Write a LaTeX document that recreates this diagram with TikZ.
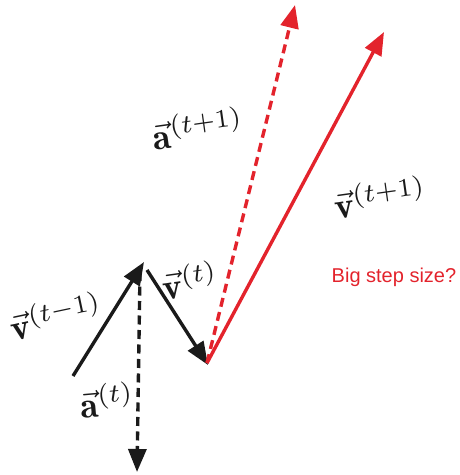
\documentclass[tikz,border=0pt]{standalone}
\usepackage{amsmath}
\usepackage{fontspec}
\usepackage{tikz}
\usetikzlibrary{arrows.meta}
\newfontfamily\notefont{Liberation Sans}
\definecolor{stepred}{HTML}{E3232C}
\definecolor{vecink}{HTML}{1A1A1A}

\begin{document}
\begin{tikzpicture}[
      x=1pt, y=-1pt,
      vecarr/.style={-{Triangle[length=23pt, width=18pt]}, line width=3.4pt, vecink},
      accarr/.style={vecarr, dash pattern=on 9pt off 5.5pt},
      redarr/.style={vecarr, stepred},
      redacc/.style={accarr, stepred},
      vlabel/.style={scale=3.7, rotate=8, text=vecink, inner sep=0pt},
      note/.style={font=\notefont\fontsize{20}{24}\selectfont, text=stepred, inner sep=0pt}
    ]
      \useasboundingbox (0,0) rectangle (460,475);

      % Points
      \coordinate (vprev0) at (73,376);
      \coordinate (vprev1) at (144,262);
      \coordinate (vcur0) at (147,270);
      \coordinate (vcur1) at (208,365);
      \coordinate (acur0) at (140,272);
      \coordinate (acur1) at (137,472);
      \coordinate (orig) at (207,363);
      \coordinate (anext) at (295,5);
      \coordinate (vnext) at (384,32);

      % Vectors
      \draw[vecarr] (vprev0) -- (vprev1);
      \draw[vecarr] (vcur0) -- (vcur1);
      \draw[accarr] (acur0) -- (acur1);
      \draw[redacc] (orig) -- (anext);
      \draw[redarr] (orig) -- (vnext);

      % Labels
      \node[vlabel, rotate=4] (lprev) at (56,316) {$\vec{\mathbf{v}}^{(t-1)}$};
      \node[vlabel] (lcur) at (190,280) {$\vec{\mathbf{v}}^{(t)}$};
      \node[vlabel, rotate=-3] (lacur) at (107,400) {$\vec{\mathbf{a}}^{(t)}$};
      \node[vlabel] (lanext) at (198,128) {$\vec{\mathbf{a}}^{(t+1)}$};
      \node[vlabel] (lvnext) at (380,197) {$\vec{\mathbf{v}}^{(t+1)}$};
      \node[note] (big) at (394,277) {Big step size?};
    \end{tikzpicture}
\end{document}
